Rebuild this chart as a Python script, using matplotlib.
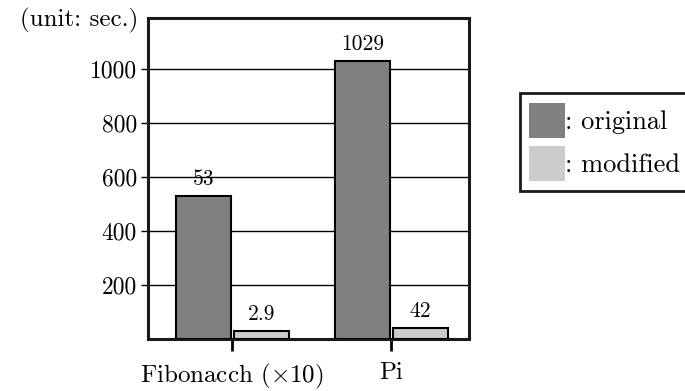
import numpy as np
import matplotlib
matplotlib.use("Agg")
import matplotlib.pyplot as plt
from matplotlib.patches import Patch

plt.rcParams["font.family"] = ["cmr10", "DejaVu Serif"]
plt.rcParams["mathtext.fontset"] = "cm"
plt.rcParams["axes.formatter.use_mathtext"] = True

# values (Fibonacci shown x10)
programs = ["Fibonacch ($\\times$10)", "Pi"]
original = [530, 1029]
modified = [29, 42]
original_labels = ["53", "1029"]
modified_labels = ["2.9", "42"]
yticks = [200, 400, 600, 800, 1000]

fig = plt.figure(figsize=(6.85, 3.91), dpi=100)
ax = fig.add_axes([0.216, 0.133, 0.469, 0.821])

x = np.arange(len(programs))
w = 0.345
b1 = ax.bar(x - 0.182, original, w, color="#808080", edgecolor="black", linewidth=1.5, zorder=3)
b2 = ax.bar(x + 0.182, modified, w, color="#cccccc", edgecolor="black", linewidth=1.5, zorder=3)
ax.bar_label(b1, labels=original_labels, padding=5, fontsize=15.5)
ax.bar_label(b2, labels=modified_labels, padding=5, fontsize=15.5)

ax.set_xlim(-0.53, 1.49)
ax.set_ylim(0, 1190)
ax.set_xticks(x)
ax.set_xticklabels(programs, fontsize=18)
ax.set_yticks(yticks)
ax.set_yticklabels([str(t) for t in yticks], fontsize=17)
ax.tick_params(axis="x", length=8.5, width=2, pad=8)
ax.tick_params(axis="y", length=5, width=1, pad=3)
ax.yaxis.grid(True, color="black", linewidth=1)
ax.set_axisbelow(True)
for s in ax.spines.values():
    s.set_linewidth(2.2)
    s.set_color("#1a1a1a")

ax.annotate("(unit: sec.)", xy=(0, 1), xycoords="axes fraction", xytext=(-7, -2),
            textcoords="offset points", ha="right", va="center", fontsize=18)

handles = [Patch(facecolor="#808080", edgecolor="none"),
           Patch(facecolor="#cccccc", edgecolor="none")]
leg = fig.legend(handles, [": original", ": modified"], loc="upper left",
                 bbox_to_anchor=(0.759, 0.762), fontsize=19, frameon=True,
                 fancybox=False, framealpha=1, handlelength=1.33, handleheight=1.7,
                 handletextpad=0.0, labelspacing=0.28, borderpad=0.36, borderaxespad=0)
leg.get_frame().set_edgecolor("#1a1a1a")
leg.get_frame().set_linewidth(2)

fig.savefig("out.png", dpi=100)
